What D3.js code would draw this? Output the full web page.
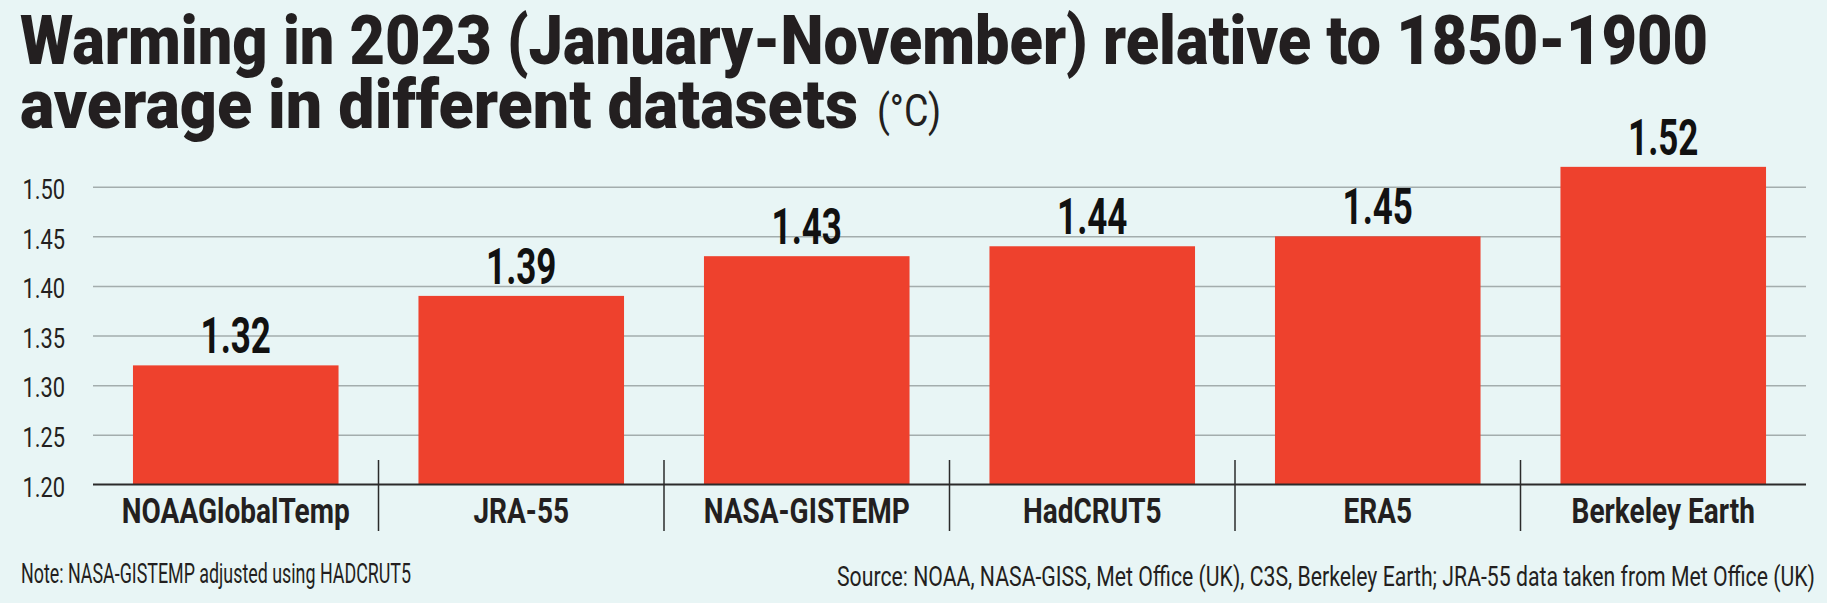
<!DOCTYPE html>
<html lang="en">
  <head>
    <meta charset="utf-8">
    <title>Warming in 2023 by dataset</title>
    <script src="https://d3js.org/d3.v7.js"></script>
    <style>
      body { margin: 0; background: #e8f5f5; }
      svg { display: block; font-family: Roboto, "Liberation Sans", sans-serif; }
    </style>
  </head>

  <body>
    <script>
      // data
      const categories = ["NOAAGlobalTemp", "JRA-55", "NASA-GISTEMP", "HadCRUT5", "ERA5", "Berkeley Earth"];
      const values = [1.32, 1.39, 1.43, 1.44, 1.45, 1.52];
      const yTicks = [1.20, 1.25, 1.30, 1.35, 1.40, 1.45, 1.50];

      const titleLine1 = "Warming in 2023 (January-November) relative to 1850-1900";
      const titleLine2 = "average in different datasets";
      const unitText = "(°C)";
      const noteText = "Note: NASA-GISTEMP adjusted using HADCRUT5";
      const sourceText = "Source: NOAA, NASA-GISS, Met Office (UK), C3S, Berkeley Earth; JRA-55 data taken from Met Office (UK)";

      const w = 1827;
      const h = 603;
      const plot = {left: 93, right: 1806, top: 186.7, bottom: 484.5};
      const ink = "#231f20";

      const bardata = categories.map((c, i) => ({key: c, value: values[i]}));

      // squeeze text horizontally to mimic the condensed face
      function condense(sel, k) {
        sel.each(function() {
          const len = this.getComputedTextLength();
          d3.select(this)
            .attr("textLength", len * k)
            .attr("lengthAdjust", "spacingAndGlyphs");
        });
      }

      const xScale = d3.scaleBand()
                       .domain(categories)
                       .range([plot.left, plot.right])
                       .padding(0);

      const yScale = d3.scaleLinear()
                       .domain([1.20, 1.50])
                       .range([plot.bottom, plot.top]);

      const svg = d3.select("body")
                    .append("svg")
                    .attr("width", w)
                    .attr("height", h);

      svg.append("rect")
         .attr("width", w)
         .attr("height", h)
         .attr("fill", "#e8f5f5");

      // title

      svg.append("text")
         .attr("x", 20)
         .attr("y", 64)
         .attr("font-size", 68)
         .attr("font-weight", 900)
         .attr("fill", ink)
         .attr("textLength", 1688)
         .attr("lengthAdjust", "spacingAndGlyphs")
         .text(titleLine1);

      svg.append("text")
         .attr("x", 20)
         .attr("y", 128)
         .attr("font-size", 68)
         .attr("font-weight", 900)
         .attr("fill", ink)
         .attr("textLength", 838)
         .attr("lengthAdjust", "spacingAndGlyphs")
         .text(titleLine2);

      svg.append("text")
         .attr("x", 877)
         .attr("y", 126)
         .attr("font-size", 44)
         .attr("fill", ink)
         .attr("textLength", 64)
         .attr("lengthAdjust", "spacingAndGlyphs")
         .text(unitText);

      // gridlines

      const grid = svg.append("g")
                      .attr("class", "grid")
                      .attr("transform", `translate(${plot.left},0)`)
                      .call(d3.axisRight(yScale)
                              .tickValues(yTicks.slice(1))
                              .tickSize(plot.right - plot.left)
                              .tickFormat(""));
      grid.select(".domain").remove();
      grid.selectAll("line")
          .attr("stroke", "#a3adad")
          .attr("stroke-width", 1.5);

      // y tick labels

      const yAxis = svg.append("g")
                       .attr("class", "yAxis")
                       .attr("transform", `translate(${plot.left},0)`)
                       .call(d3.axisLeft(yScale)
                               .tickValues(yTicks)
                               .tickFormat(d3.format(".2f"))
                               .tickSize(0)
                               .tickPadding(28));
      yAxis.select(".domain").remove();
      yAxis.selectAll("text")
           .attr("font-family", "Roboto, sans-serif")
           .attr("font-size", 28)
           .attr("fill", ink)
           .attr("dy", "0.42em")
           .call(condense, 0.78);

      // bars

      const inset = xScale.bandwidth() * 0.14;

      svg.append("g")
         .attr("id", "plot")
         .selectAll("rect")
         .data(bardata)
         .enter().append("rect")
         .attr("x", d => xScale(d.key) + inset)
         .attr("y", d => yScale(d.value))
         .attr("width", xScale.bandwidth() - 2 * inset)
         .attr("height", d => yScale(1.20) - yScale(d.value))
         .attr("fill", "#ee412d");

      // value labels

      svg.append("g")
         .selectAll("text")
         .data(bardata)
         .enter().append("text")
         .attr("x", d => xScale(d.key) + xScale.bandwidth() / 2)
         .attr("y", d => yScale(d.value) - 12)
         .attr("text-anchor", "middle")
         .attr("font-size", 50)
         .attr("font-weight", 700)
         .attr("fill", "#111")
         .text(d => d.value.toFixed(2))
         .call(condense, 0.7);

      // baseline

      svg.append("line")
         .attr("x1", plot.left)
         .attr("x2", plot.right)
         .attr("y1", yScale(1.20))
         .attr("y2", yScale(1.20))
         .attr("stroke", "#2b2b2b")
         .attr("stroke-width", 2);

      // separators between categories

      svg.append("g")
         .selectAll("line")
         .data(categories.slice(1))
         .enter().append("line")
         .attr("x1", d => xScale(d))
         .attr("x2", d => xScale(d))
         .attr("y1", 460)
         .attr("y2", 531)
         .attr("stroke", "#2b2b2b")
         .attr("stroke-width", 1.5);

      // category labels

      svg.append("g")
         .selectAll("text")
         .data(categories)
         .enter().append("text")
         .attr("x", d => xScale(d) + xScale.bandwidth() / 2)
         .attr("y", 523)
         .attr("text-anchor", "middle")
         .attr("font-size", 35)
         .attr("font-weight", 700)
         .attr("fill", ink)
         .text(d => d)
         .call(condense, 0.8);

      // footnotes

      svg.append("text")
         .attr("x", 21)
         .attr("y", 583)
         .attr("font-size", 28)
         .attr("fill", ink)
         .attr("textLength", 390)
         .attr("lengthAdjust", "spacingAndGlyphs")
         .text(noteText);

      svg.append("text")
         .attr("x", 1815)
         .attr("y", 586)
         .attr("text-anchor", "end")
         .attr("font-size", 28)
         .attr("fill", ink)
         .attr("textLength", 978)
         .attr("lengthAdjust", "spacingAndGlyphs")
         .text(sourceText);
    </script>
  </body>
</html>
